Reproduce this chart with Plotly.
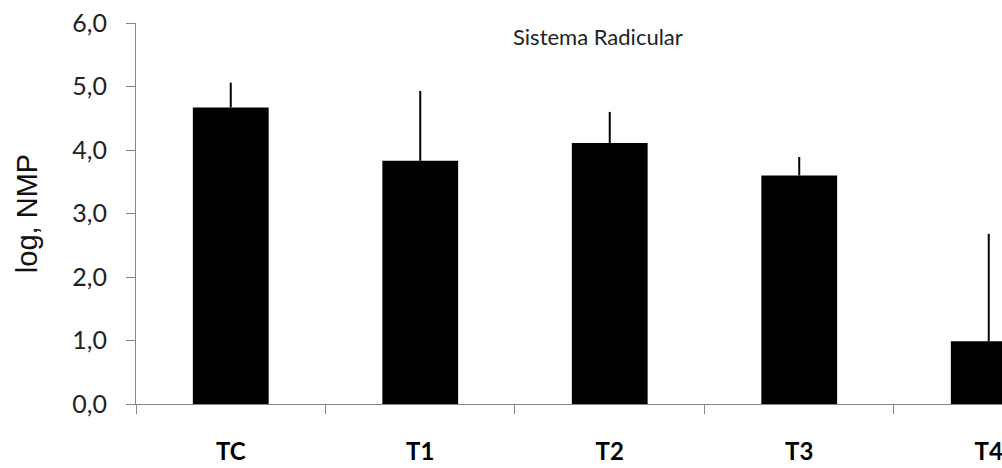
import plotly.graph_objects as go

categories = ["TC", "T1", "T2", "T3", "T4"]
values = [4.67, 3.83, 4.11, 3.60, 0.99]
errors_plus = [0.39, 1.10, 0.49, 0.29, 1.69]
y_ticks = [0, 1, 2, 3, 4, 5, 6]

fig = go.Figure()
fig.add_trace(go.Bar(
    x=categories, y=values, width=0.40,
    marker=dict(color="black", line=dict(width=0)),
    error_y=dict(type="data", symmetric=False, array=errors_plus,
                 arrayminus=[0] * len(values), color="black", thickness=2, width=0),
    showlegend=False,
))

fig.update_layout(
    width=1002, height=468,
    margin=dict(l=136, r=0, t=23, b=64),
    paper_bgcolor="white", plot_bgcolor="white",
    separators=",.",
    annotations=[dict(text="Sistema Radicular", xref="paper", yref="paper",
                      x=(598 - 136) / 866, y=(404 - 36) / 381, xanchor="center", yanchor="middle",
                      showarrow=False, font=dict(family="Lato", size=22, color="#222"))],
)
fig.update_xaxes(
    type="category", range=[-0.5, 4.07], tickson="boundaries",
    showline=True, linecolor="#868686", linewidth=1,
    ticks="outside", ticklen=9, tickcolor="#868686",
    tickfont=dict(family="Lato", size=24, color="black", weight="bold"),
    ticklabelstandoff=26, showgrid=False,
)
fig.update_yaxes(
    range=[0, 6], tickvals=y_ticks, tickformat=".1f",
    showline=True, linecolor="#868686", linewidth=1,
    ticks="outside", ticklen=9, tickcolor="#868686",
    tickfont=dict(family="Lato", size=25, color="#222"),
    ticklabelstandoff=14, showgrid=False, zeroline=False,
    title=dict(text="log, NMP", font=dict(family="Liberation Sans", size=29, color="#111"), standoff=26),
)
fig.write_html("out.html")
